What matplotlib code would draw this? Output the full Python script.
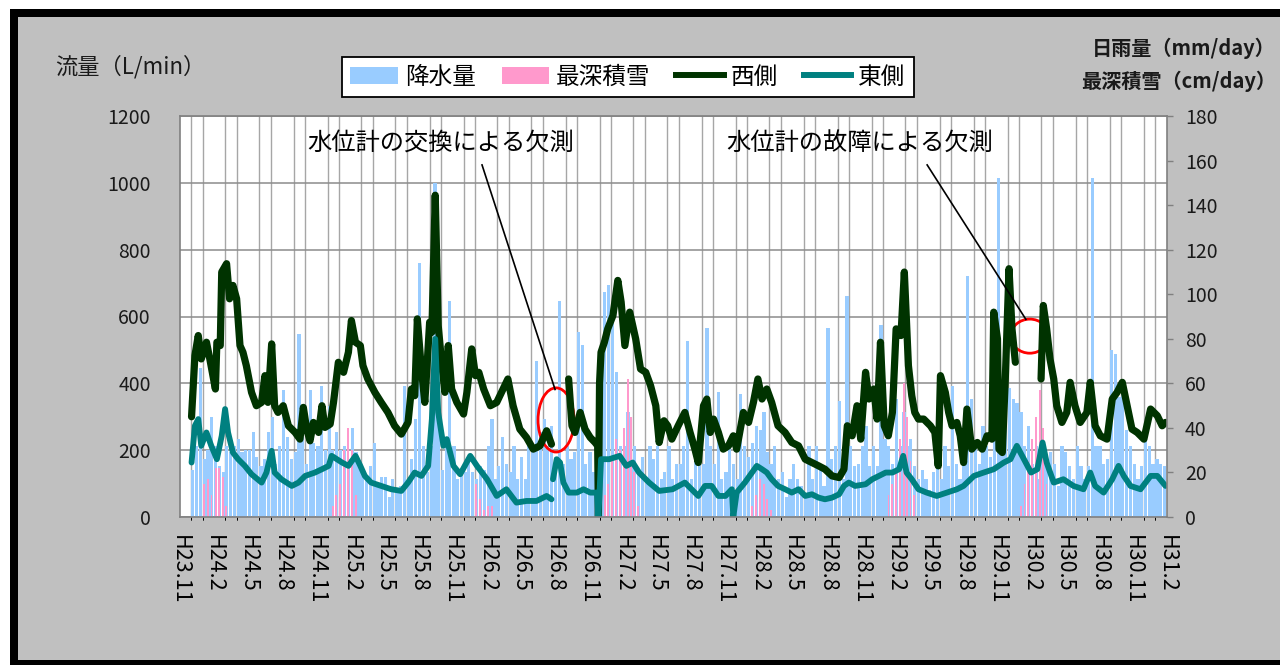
import numpy as np
import pandas as pd
import matplotlib
matplotlib.use("Agg")
import matplotlib.pyplot as plt
import matplotlib.dates as mdates
from matplotlib.patches import Rectangle, Ellipse, Patch
from matplotlib.lines import Line2D

plt.rcParams['font.family'] = ['Noto Sans CJK JP', 'DejaVu Sans']

# 日雨量 (mm/day) : 1ヶ月を3区切り (1日,11日,21日) 、H23.11 ~ H31.1
rain = [
    0, 0, 0, 21, 32, 67, 26, 30, 45, 32, 23, 20,        # H23.11-H24.2
    32, 29, 32, 35, 29, 30, 30, 38, 27, 23, 26, 38,     # H24.3-6
    45, 24, 32, 57, 36, 26, 29, 82, 40, 24, 57, 33,     # H24.7-10
    32, 59, 30, 50, 30, 38, 30, 32, 26, 40, 29, 23,     # H24.11-H25.2
    20, 17, 23, 33, 14, 18, 18, 9, 17, 11, 14, 59,      # H25.3-6
    17, 26, 44, 114, 32, 20, 32, 150, 47, 21, 32, 97,   # H25.7-10
    32, 17, 21, 20, 27, 20, 17, 23, 21, 32, 44, 17,     # H25.11-H26.2
    23, 36, 24, 20, 32, 17, 27, 17, 32, 32, 70, 38,     # H26.3-6
    44, 32, 41, 27, 97, 24, 32, 26, 29, 83, 77, 24,     # H26.7-10
    29, 20, 17, 67, 101, 104, 94, 65, 32, 32, 47, 24,   # H26.11-H27.2
    32, 20, 27, 17, 32, 26, 32, 17, 20, 32, 17, 24,     # H27.3-6
    24, 32, 79, 17, 32, 24, 24, 85, 32, 24, 56, 17,     # H27.7-10
    20, 32, 24, 17, 55, 32, 27, 33, 41, 39, 47, 29,     # H27.11-H28.2
    24, 32, 17, 20, 9, 17, 24, 17, 14, 9, 32, 17,       # H28.3-6
    32, 23, 14, 85, 26, 32, 52, 17, 99, 32, 23, 24,     # H28.7-10
    32, 41, 23, 32, 23, 86, 35, 32, 24, 53, 32, 47,     # H28.11-H29.2
    32, 35, 23, 17, 21, 17, 12, 20, 24, 17, 32, 23,     # H29.3-6
    59, 24, 17, 32, 108, 53, 32, 24, 41, 32, 27, 47,    # H29.7-10
    152, 32, 47, 58, 53, 51, 47, 32, 41, 24, 32, 17,    # H29.11-H30.2
    32, 24, 29, 24, 14, 32, 29, 23, 17, 32, 23, 17,     # H30.3-6
    23, 152, 32, 32, 24, 26, 75, 73, 54, 62, 39, 32,    # H30.7-10
    24, 17, 23, 38, 32, 24, 26, 24, 23,                 # H30.11-H31.1
]

# 最深積雪 (cm/day) : 同じ区切り
snow = [
    0, 0, 0, 0, 0, 0, 15, 17, 10, 22, 22, 18,
    5, 0, 0, 0, 0, 0, 0, 0, 0, 0, 0, 0,
    0, 0, 0, 0, 0, 0, 0, 0, 0, 0, 0, 0,
    0, 0, 0, 0, 5, 10, 15, 30, 40, 30, 10, 0,
    0, 0, 0, 0, 0, 0, 0, 0, 0, 0, 0, 0,
    0, 0, 0, 0, 0, 0, 0, 0, 0, 0, 0, 0,
    0, 0, 0, 0, 0, 0, 15, 8, 3, 5, 5, 0,
    0, 0, 0, 0, 0, 0, 0, 0, 0, 0, 0, 0,
    0, 0, 0, 0, 0, 0, 0, 0, 0, 0, 0, 0,
    0, 0, 0, 0, 10, 15, 25, 35, 30, 40, 62, 45,
    20, 5, 0, 0, 0, 0, 0, 0, 0, 0, 0, 0,
    0, 0, 0, 0, 0, 0, 0, 0, 0, 0, 0, 0,
    0, 0, 0, 0, 0, 0, 0, 5, 10, 17, 15, 8,
    3, 0, 0, 0, 0, 0, 0, 0, 0, 0, 0, 0,
    0, 0, 0, 0, 0, 0, 0, 0, 0, 0, 0, 0,
    0, 0, 0, 0, 0, 0, 0, 10, 15, 20, 35, 60,
    45, 25, 10, 0, 0, 0, 0, 0, 0, 0, 0, 0,
    0, 0, 0, 0, 0, 0, 0, 0, 0, 0, 0, 0,
    0, 0, 0, 0, 0, 0, 5, 15, 25, 35, 45, 57,
    40, 15, 0, 0, 0, 0, 0, 0, 0, 0, 0, 0,
    0, 0, 0, 0, 0, 0, 0, 0, 0, 0, 0, 0,
    0, 0, 0, 0, 0, 0, 0, 0, 0,
]

# 西側 流量 (L/min) 、None = 欠測
west_dates = [
    '2011-12-02', '2011-12-11', '2011-12-20', '2011-12-28', '2012-01-11', '2012-01-20',
    '2012-02-04', '2012-02-08', '2012-02-17', '2012-02-21', '2012-03-05', '2012-03-13',
    '2012-03-22', '2012-04-01', '2012-04-10', '2012-04-18', '2012-04-27', '2012-05-11',
    '2012-05-24', '2012-06-07', '2012-06-16', '2012-06-24', '2012-07-04', '2012-07-12',
    '2012-07-21', '2012-08-04', '2012-08-18', '2012-09-05', '2012-09-18', '2012-09-27',
    '2012-10-06', '2012-10-15', '2012-10-24', '2012-11-07', '2012-11-16', '2012-11-24',
    '2012-12-08', '2012-12-17', '2012-12-30', '2013-01-13', '2013-01-26', '2013-02-03',
    '2013-02-14', '2013-02-27', '2013-03-06', '2013-03-19', '2013-04-07', '2013-04-24',
    '2013-05-12', '2013-05-30', '2013-06-17', '2013-07-05', '2013-07-14', '2013-07-23',
    '2013-07-30', '2013-08-09', '2013-08-19', '2013-08-24', '2013-09-01', '2013-09-07',
    '2013-09-16', '2013-09-24', '2013-10-04', '2013-10-12', '2013-10-21', '2013-10-30',
    '2013-11-13', '2013-12-01', '2013-12-10', '2013-12-23', '2014-01-02', '2014-01-11',
    '2014-01-24', '2014-02-11', '2014-02-28', '2014-03-17', '2014-03-30', '2014-04-13',
    '2014-05-01', '2014-05-19', '2014-06-06', '2014-06-24', '2014-07-12', '2014-07-25',
    '2014-08-15',
    '2014-09-09', '2014-09-18', '2014-09-26', '2014-10-10', '2014-10-23', '2014-11-06',
    '2014-11-19', '2014-11-26', '2014-11-28', '2014-12-01', '2014-12-05', '2014-12-14',
    '2014-12-23', '2015-01-06', '2015-01-19', '2015-01-28', '2015-02-07', '2015-02-20',
    '2015-02-28', '2015-03-08', '2015-03-21', '2015-04-04', '2015-04-17', '2015-05-01',
    '2015-05-10', '2015-05-23', '2015-06-02', '2015-06-13', '2015-06-30', '2015-07-18',
    '2015-08-01', '2015-08-14', '2015-08-23', '2015-09-06', '2015-09-15', '2015-09-24',
    '2015-10-03', '2015-10-16', '2015-10-29', '2015-11-12', '2015-11-25', '2015-12-04',
    '2015-12-22', '2016-01-05', '2016-01-18', '2016-01-30', '2016-02-10', '2016-02-23',
    '2016-03-07', '2016-03-24', '2016-04-12', '2016-04-30', '2016-05-18', '2016-06-05',
    '2016-06-23', '2016-07-11', '2016-07-28', '2016-08-16', '2016-09-04', '2016-09-17',
    '2016-09-26', '2016-10-09', '2016-10-22', '2016-11-01', '2016-11-14', '2016-11-23',
    '2016-12-06', '2016-12-15', '2016-12-24', '2017-01-03', '2017-01-14', '2017-01-25',
    '2017-02-04', '2017-02-17', '2017-02-26', '2017-03-09', '2017-03-18', '2017-03-26',
    '2017-04-05', '2017-04-19', '2017-05-07', '2017-05-19', '2017-05-28', '2017-06-03',
    '2017-06-16', '2017-06-25', '2017-07-04', '2017-07-17', '2017-07-26', '2017-08-04',
    '2017-08-13', '2017-08-26', '2017-09-10', '2017-09-23', '2017-10-06', '2017-10-19',
    '2017-10-24', '2017-11-03', '2017-11-07', '2017-11-16', '2017-11-24', '2017-12-04',
    '2017-12-12', '2017-12-21',
    '2018-01-20',
    '2018-02-28', '2018-03-06', '2018-03-15', '2018-03-24', '2018-04-03', '2018-04-11',
    '2018-04-25', '2018-05-08', '2018-05-17', '2018-05-30', '2018-06-13', '2018-07-01',
    '2018-07-10', '2018-07-23', '2018-08-06', '2018-08-24', '2018-09-07', '2018-09-20',
    '2018-10-04', '2018-10-17', '2018-10-30', '2018-11-13', '2018-12-01', '2018-12-19',
    '2019-01-06', '2019-01-19', '2019-01-28',
]
west_vals = [
    300, 483, 543, 473, 523, 473,
    383, 523, 513, 733, 758, 653,
    693, 653, 513, 493, 453, 373,
    333, 343, 423, 343, 518, 333,
    313, 333, 273, 253, 233, 328,
    263, 228, 283, 253, 333, 268,
    278, 343, 463, 433, 493, 588,
    523, 513, 453, 413, 373, 343,
    313, 273, 248, 283, 383, 363,
    593, 453, 343, 433, 583, 553,
    963, 573, 453, 373, 513, 383,
    343, 308, 373, 503, 423, 433,
    383, 333, 343, 383, 413, 333,
    263, 238, 203, 213, 258, 218,
    None,
    413, 273, 253, 313, 263, 238,
    223, 213, 0, 400, 493, 523,
    563, 603, 708, 643, 513, 613,
    573, 533, 443, 433, 393, 333,
    223, 288, 273, 233, 273, 313,
    253, 203, 163, 333, 353, 253,
    293, 253, 203, 213, 243, 203,
    313, 283, 343, 413, 353, 383,
    343, 273, 253, 223, 213, 173,
    163, 153, 143, 123, 118, 143,
    273, 243, 333, 233, 433, 353,
    383, 293, 523, 273, 243, 313,
    563, 543, 733, 453, 363, 313,
    293, 293, 273, 253, 153, 423,
    373, 313, 273, 283, 243, 163,
    323, 203, 223, 203, 243, 233,
    613, 533, 203, 193, 413, 743,
    563, 463,
    None,
    413, 633, 563, 473, 413, 333,
    283, 313, 403, 333, 283, 313,
    403, 273, 243, 233, 353, 373,
    403, 333, 263, 253, 233, 323,
    303, 273, 283,
]

# 東側 流量 (L/min)
east_dates = [
    '2011-12-02', '2011-12-11', '2011-12-20', '2011-12-28', '2012-01-11', '2012-01-24',
    '2012-02-08', '2012-02-21', '2012-03-01', '2012-03-09', '2012-03-22', '2012-04-05',
    '2012-04-23', '2012-05-11', '2012-06-07', '2012-06-20', '2012-07-04', '2012-07-12',
    '2012-07-30', '2012-08-27', '2012-09-14', '2012-10-02', '2012-10-28', '2012-11-16',
    '2012-12-04', '2012-12-12', '2013-01-09', '2013-01-26', '2013-02-14', '2013-02-27',
    '2013-03-11', '2013-03-28', '2013-04-24', '2013-05-21', '2013-06-17', '2013-07-05',
    '2013-07-23', '2013-08-10', '2013-08-28', '2013-09-07', '2013-09-16', '2013-09-24',
    '2013-10-08', '2013-10-17', '2013-11-04', '2013-11-22', '2013-12-19', '2014-01-06',
    '2014-02-02', '2014-02-28', '2014-03-26', '2014-04-22', '2014-05-19', '2014-06-15',
    '2014-07-12', '2014-07-25',
    '2014-07-27',
    '2014-07-29', '2014-08-08', '2014-08-17', '2014-08-26', '2014-09-09', '2014-10-01',
    '2014-10-19', '2014-11-06', '2014-11-24', '2014-11-28', '2014-12-05', '2014-12-27',
    '2015-01-24', '2015-02-11', '2015-02-28', '2015-03-17', '2015-04-13', '2015-05-10',
    '2015-06-15', '2015-07-18', '2015-08-05', '2015-08-23', '2015-09-10', '2015-09-28',
    '2015-10-16', '2015-11-04', '2015-11-21', '2015-11-25', '2015-12-04', '2015-12-26',
    '2016-01-14', '2016-01-27', '2016-02-10', '2016-02-23', '2016-03-07', '2016-03-24',
    '2016-04-12', '2016-04-30', '2016-05-18', '2016-06-05', '2016-06-23', '2016-07-11',
    '2016-07-28', '2016-08-16', '2016-09-04', '2016-09-17', '2016-09-30', '2016-10-17',
    '2016-11-14', '2016-12-02', '2016-12-20', '2017-01-07', '2017-01-25', '2017-02-12',
    '2017-02-23', '2017-03-04', '2017-03-18', '2017-04-05', '2017-04-27', '2017-05-24',
    '2017-06-20', '2017-07-17', '2017-08-04', '2017-09-01', '2017-09-27', '2017-10-24',
    '2017-11-20', '2017-12-08', '2017-12-25', '2018-01-13', '2018-02-01', '2018-02-18',
    '2018-03-04', '2018-03-15', '2018-04-03', '2018-04-29', '2018-05-26', '2018-06-22',
    '2018-07-10', '2018-07-23', '2018-08-15', '2018-09-07', '2018-09-24', '2018-10-08',
    '2018-10-26', '2018-11-22', '2018-12-19', '2019-01-06', '2019-01-28',
]
east_vals = [
    163, 273, 293, 213, 253, 213,
    173, 243, 323, 253, 193, 173,
    153, 128, 103, 133, 198, 133,
    113, 93, 103, 123, 133, 143,
    153, 183, 163, 153, 183, 153,
    123, 103, 93, 83, 78, 103,
    133, 123, 153, 293, 533, 313,
    213, 233, 153, 128, 183, 153,
    113, 63, 83, 43, 48, 48,
    63, 53,
    None,
    113, 173, 163, 103, 73, 73,
    83, 73, 73, 0, 173, 173,
    183, 153, 163, 133, 103, 78,
    83, 103, 83, 63, 93, 93,
    63, 63, 83, 0, 73, 103,
    133, 153, 143, 133, 113, 93,
    83, 73, 83, 63, 68, 58,
    53, 58, 68, 93, 103, 93,
    98, 113, 123, 133, 133, 143,
    183, 133, 113, 83, 73, 63,
    73, 83, 93, 123, 133, 143,
    163, 173, 213, 173, 133, 143,
    223, 163, 103, 113, 93, 83,
    133, 93, 73, 113, 153, 123,
    93, 83, 123, 123, 93,
]

labels = ['降水量', '最深積雪', '西側', '東側']
c_rain, c_snow, c_west, c_east = '#99ccff', '#ff99cc', '#003300', '#008080'

# 区切りの開始日
months = pd.date_range('2011-11-01', '2019-01-01', freq='MS')
bins = [m + pd.Timedelta(days=d) for m in months for d in (0, 10, 20)]
west_x = pd.to_datetime(west_dates)
west_y = np.array([np.nan if v is None else v for v in west_vals], dtype=float)
east_x = pd.to_datetime(east_dates)
east_y = np.array([np.nan if v is None else v for v in east_vals], dtype=float)

W, H = 1280, 665
fig = plt.figure(figsize=(12.8, 6.65), dpi=100)
fig.patch.set_facecolor('white')


def px_rect(x, y, w, h, color):
    fig.patches.append(Rectangle((x / W, 1 - (y + h) / H), w / W, h / H,
                                 transform=fig.transFigure, facecolor=color,
                                 edgecolor='none', zorder=-10))


px_rect(10, 9, 1270, 656, 'black')
px_rect(18, 17, 1262, 643, '#c0c0c0')

rect = [180 / W, (H - 517) / H, 987 / W, 401 / H]
ax_grid = fig.add_axes(rect)
ax_bar = fig.add_axes(rect, sharex=ax_grid)
ax = fig.add_axes(rect, sharex=ax_grid)

x0, x1 = pd.Timestamp('2011-11-01'), pd.Timestamp('2019-02-01')

# 格子
ax_grid.set_facecolor('white')
ax_grid.set_ylim(0, 1200)
ax_grid.set_yticks(np.arange(0, 1201, 200))
ax_grid.xaxis.set_minor_locator(mdates.MonthLocator())
ax_grid.grid(True, which='major', axis='y', color='#8c8c8c', lw=1.1)
ax_grid.grid(True, which='minor', axis='x', color='#a6a6a6', lw=1.0)
ax_grid.tick_params(which='both', length=0, labelleft=False, labelbottom=False)
for s in ax_grid.spines.values():
    s.set_visible(False)

# 棒 (右軸)
ax_bar.patch.set_visible(False)
ax_bar.bar(bins, rain, width=8.5, align='edge', color=c_rain, lw=0)
ax_bar.bar([b + pd.Timedelta(days=1) for b in bins], snow, width=5, align='edge', color=c_snow, lw=0)
ax_bar.set_ylim(0, 180)
ax_bar.set_yticks(np.arange(0, 181, 20))
ax_bar.yaxis.tick_right()
ax_bar.tick_params(axis='y', direction='out', length=4, width=1, color='#808080',
                   pad=9, labelsize=14, labelcolor='#1a1a1a')
ax_bar.tick_params(axis='x', length=0, labelbottom=False)
for s in ax_bar.spines.values():
    s.set_visible(False)

# 線 (左軸)
ax.patch.set_visible(False)
ax.plot(west_x, west_y, color=c_west, lw=5.2, solid_joinstyle='round', solid_capstyle='round')
ax.plot(east_x, east_y, color=c_east, lw=4.2, solid_joinstyle='round', solid_capstyle='round')
ax.set_ylim(0, 1200)
ax.set_yticks(np.arange(0, 1201, 200))
ax.set_xlim(x0, x1)
ax.xaxis.set_major_locator(mdates.MonthLocator(bymonth=[2, 5, 8, 11]))
ax.xaxis.set_major_formatter(lambda v, pos: 'H%d.%d' % (mdates.num2date(v).year - 1988,
                                                        mdates.num2date(v).month))
ax.tick_params(axis='y', length=0, pad=21, labelsize=14, labelcolor='#1a1a1a')
ax.tick_params(axis='x', length=0, pad=13, labelsize=15.5, labelrotation=-90)
for lab in ax.get_xticklabels():
    lab.set_verticalalignment('top')
for s in ax.spines.values():
    s.set_color('#808080')
    s.set_linewidth(1.2)

# 軸タイトル
fig.text(55 / W, 1 - 67 / H, '流量（L/min）', fontsize=16, ha='left', va='center', color='#1a1a1a')
fig.text(1276 / W, 1 - 48 / H, '日雨量（mm/day）', fontsize=14.5, fontweight='bold',
         ha='right', va='center', color='#1a1a1a')
fig.text(1276 / W, 1 - 81 / H, '最深積雪（cm/day）', fontsize=14.5, fontweight='bold',
         ha='right', va='center', color='#1a1a1a')

# 凡例
handles = [Patch(facecolor=c_rain), Patch(facecolor=c_snow),
           Line2D([], [], color=c_west, lw=4.3), Line2D([], [], color=c_east, lw=4.3)]
leg = fig.legend(handles, labels, loc='center', bbox_to_anchor=(628 / W, 1 - 77 / H),
                 ncol=4, fontsize=17, frameon=True, fancybox=False, framealpha=1,
                 edgecolor='black', handlelength=2.0, handletextpad=0.3,
                 columnspacing=1.1, borderpad=0.35)
leg.get_frame().set_linewidth(1.3)

# 欠測の注記
ax.text(0.264, 0.933, '水位計の交換による欠測', transform=ax.transAxes, fontsize=17.5,
        ha='center', va='center', color='black')
ax.plot([0.306, 0.380], [0.878, 0.318], transform=ax.transAxes, color='black', lw=1.2)
ax.add_patch(Ellipse((0.381, 0.242), 0.0365, 0.16, transform=ax.transAxes,
                     fill=False, edgecolor='red', lw=2))
ax.text(0.689, 0.933, '水位計の故障による欠測', transform=ax.transAxes, fontsize=17.5,
        ha='center', va='center', color='black')
ax.plot([0.757, 0.857], [0.878, 0.493], transform=ax.transAxes, color='black', lw=1.2)
ax.add_patch(Ellipse((0.861, 0.451), 0.0385, 0.085, transform=ax.transAxes,
                     fill=False, edgecolor='red', lw=2))

fig.savefig('out.png', dpi=100, facecolor=fig.get_facecolor())
